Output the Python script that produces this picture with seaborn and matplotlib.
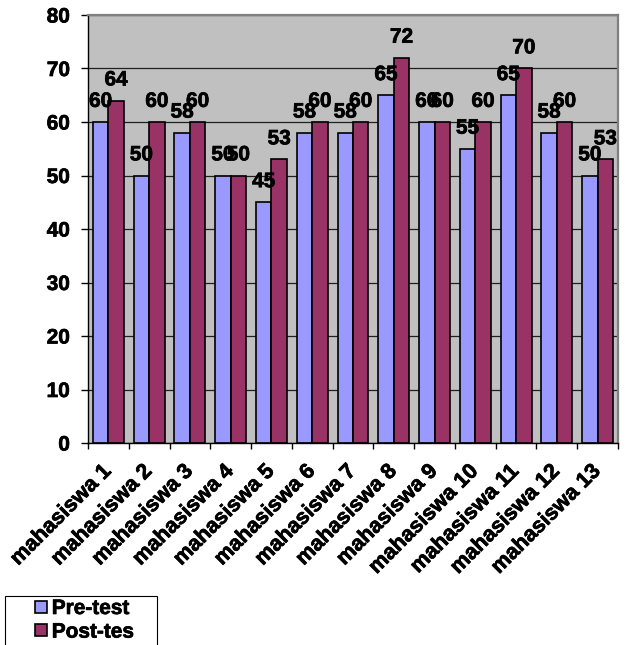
import matplotlib
matplotlib.use("Agg")
import matplotlib.pyplot as plt
import matplotlib.patheffects as pe
import seaborn as sns
import pandas as pd
from matplotlib.lines import Line2D
from matplotlib.patches import Rectangle

students = [f"mahasiswa {i}" for i in range(1, 14)]
pre_test = [60, 50, 58, 50, 45, 58, 58, 65, 60, 55, 65, 58, 50]
post_test = [64, 60, 60, 50, 53, 60, 60, 72, 60, 60, 70, 60, 53]
series = ["Pre-test", "Post-tes"]
colors = ["#9999FF", "#993366"]
y_ticks = [0, 10, 20, 30, 40, 50, 60, 70, 80]

df = pd.DataFrame({
    "student": students * 2,
    "score": pre_test + post_test,
    "series": [series[0]] * len(students) + [series[1]] * len(students),
})

sns.set_theme(style="white")
plt.rcParams["font.family"] = ["Liberation Sans", "DejaVu Sans"]
plt.rcParams["font.weight"] = "bold"
plt.rcParams["text.color"] = "black"

FS = 15
FS_X = 15.5
W, H = 625, 645
heavy = [pe.withStroke(linewidth=0.5, foreground="black")]

fig = plt.figure(figsize=(W / 100, H / 100), dpi=100)
ax = fig.add_axes([88 / W, 202 / H, 530 / W, 428 / H])

sns.barplot(data=df, x="student", y="score", hue="series", hue_order=series,
            palette=colors, width=0.76, edgecolor="black", linewidth=1.2,
            saturation=1, legend=False, ax=ax)

ax.set_facecolor("#C0C0C0")
ax.set_xlim(-0.5, len(students) - 0.5)
ax.set_ylim(0, 80)
ax.set_yticks(y_ticks)
ax.set_axisbelow(True)
ax.yaxis.grid(True, color="#202020", linewidth=0.9)
ax.xaxis.grid(False)
ax.set_xlabel("")
ax.set_ylabel("")

for side in ("left", "bottom"):
    ax.spines[side].set_color("black")
    ax.spines[side].set_linewidth(1.0)
for side in ("top", "right"):
    ax.spines[side].set_color("#808080")
    ax.spines[side].set_linewidth(1.6)

ax.tick_params(axis="y", which="major", length=5, width=1, color="black",
               pad=8, labelsize=FS, labelcolor="black", left=True)
ax.set_yticklabels([str(v) for v in y_ticks], fontweight="bold")

# category separators as minor ticks, labels on the category centres
ax.set_xticks([i - 0.5 for i in range(len(students) + 1)], minor=True)
ax.tick_params(axis="x", which="minor", length=4, width=1, color="black", bottom=True)
ax.tick_params(axis="x", which="major", length=0, pad=18, labelsize=FS_X, labelcolor="black")
ax.set_xticks(range(len(students)))
ax.set_xticklabels(students, rotation=45, ha="right", va="center",
                   rotation_mode="anchor", fontweight="bold")

for lbl in ax.get_xticklabels() + ax.get_yticklabels():
    lbl.set_path_effects(heavy)

for container in ax.containers:
    for t in ax.bar_label(container, fmt="%d", padding=8, fontsize=FS,
                          fontweight="bold", color="black"):
        t.set_path_effects(heavy)

# legend box in the lower-left corner
fig.patches.append(Rectangle((5 / W, -0.01), 152 / W, (H - 596) / H + 0.01,
                             transform=fig.transFigure, facecolor="white",
                             edgecolor="black", linewidth=0.8, zorder=1))
handles = [Line2D([], [], linestyle="none", marker="s", markersize=8.5,
                  markerfacecolor=c, markeredgecolor="black",
                  markeredgewidth=1.2, label=s)
           for c, s in zip(colors, series)]
leg = fig.legend(handles=handles, loc="upper left",
                 bbox_to_anchor=(33 / W, 1 - 599 / H),
                 frameon=False, borderaxespad=0, borderpad=0,
                 handlelength=0.8, handletextpad=0.1, labelspacing=0.22,
                 prop={"size": FS, "weight": "bold"})
leg.set_zorder(2)
for t in leg.get_texts():
    t.set_path_effects(heavy)

fig.savefig("out.png", dpi=100)
